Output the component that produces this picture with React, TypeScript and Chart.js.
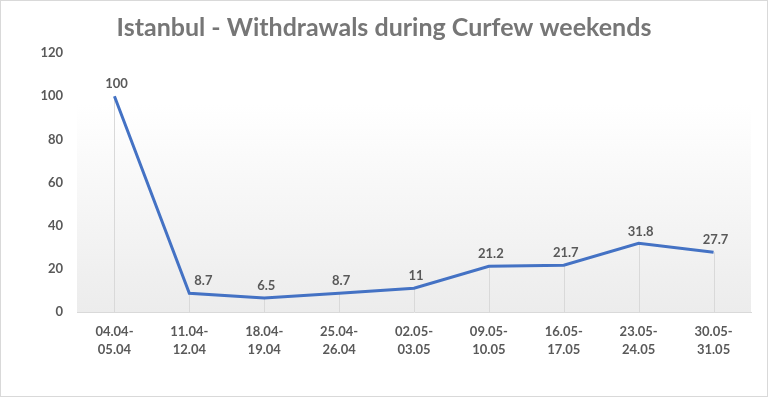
import React, { useEffect, useRef } from "react";
import { Chart, registerables } from "chart.js";

Chart.register(...registerables);

const categories: string[][] = [
  ["04.04-", "05.04"],
  ["11.04-", "12.04"],
  ["18.04-", "19.04"],
  ["25.04-", "26.04"],
  ["02.05-", "03.05"],
  ["09.05-", "10.05"],
  ["16.05-", "17.05"],
  ["23.05-", "24.05"],
  ["30.05-", "31.05"],
];
const withdrawals: number[] = [100, 8.7, 6.5, 8.7, 11, 21.2, 21.7, 31.8, 27.7];
const yMin = 0;
const yMax = 120;
const yStep = 20;
const titleText = "Istanbul - Withdrawals during Curfew weekends";

const FONT = "Lato, 'Open Sans', sans-serif";
const LABEL_COLOR = "#595959";

const bgPlugin = {
  id: "plotBg",
  beforeDraw(chart: any) {
    const { ctx, chartArea } = chart;
    if (!chartArea) return;
    const g = ctx.createLinearGradient(0, chartArea.top, 0, chartArea.bottom);
    g.addColorStop(0, "#ffffff");
    g.addColorStop(0.2, "#ffffff");
    g.addColorStop(1, "#ececec");
    ctx.save();
    ctx.fillStyle = g;
    ctx.fillRect(chartArea.left, chartArea.top, chartArea.right - chartArea.left, chartArea.bottom - chartArea.top);
    ctx.restore();
  },
  beforeDatasetsDraw(chart: any) {
    const { ctx } = chart;
    const meta = chart.getDatasetMeta(0);
    const yScale = chart.scales.y;
    const base = yScale.getPixelForValue(0);
    ctx.save();
    ctx.strokeStyle = "#d9d9d9";
    ctx.lineWidth = 1;
    meta.data.forEach((pt: any) => {
      const x = Math.round(pt.x) + 0.5;
      ctx.beginPath();
      ctx.moveTo(x, pt.y);
      ctx.lineTo(x, base);
      ctx.stroke();
    });
    ctx.restore();
  },
  afterDatasetsDraw(chart: any) {
    const { ctx } = chart;
    const meta = chart.getDatasetMeta(0);
    const data = chart.data.datasets[0].data as number[];
    ctx.save();
    ctx.font = `bold 13px ${FONT}`;
    ctx.fillStyle = LABEL_COLOR;
    ctx.textAlign = "center";
    ctx.textBaseline = "middle";
    meta.data.forEach((pt: any, i: number) => {
      let dx = 2;
      if (i > 0) {
        const prev = meta.data[i - 1];
        const slope = (pt.y - prev.y) / (pt.x - prev.x);
        if (slope > 1) dx = 14;
      }
      ctx.fillText(String(data[i]), pt.x + dx, pt.y - 12);
    });
    ctx.restore();
  },
};

export default function App() {
  const ref = useRef<HTMLCanvasElement | null>(null);

  useEffect(() => {
    document.body.style.margin = "0";
    if (!ref.current) return;
    const chart = new Chart(ref.current, {
      type: "line",
      data: {
        labels: categories,
        datasets: [
          {
            data: withdrawals,
            borderColor: "#4472C4",
            borderWidth: 3,
            pointRadius: 0,
            tension: 0,
            fill: false,
          },
        ],
      },
      options: {
        animation: false,
        responsive: false,
        maintainAspectRatio: false,
        layout: { padding: { left: 16, right: 16, top: 0, bottom: 0 } },
        plugins: {
          legend: { display: false },
          tooltip: { enabled: false },
          title: {
            display: true,
            text: titleText,
            color: "#767676",
            font: { family: FONT, size: 25, weight: "bold", lineHeight: 1.2 },
            padding: { top: 12, bottom: 10 },
          },
        },
        scales: {
          x: {
            offset: true,
            grid: { display: false, drawTicks: false },
            border: { display: true, color: "#d9d9d9", width: 1 },
            ticks: {
              color: LABEL_COLOR,
              font: { family: FONT, size: 13, weight: "bold", lineHeight: 1.45 },
              padding: 10,
              maxRotation: 0,
              autoSkip: false,
            },
            afterFit(scale: any) {
              scale.height = 84;
            },
          },
          y: {
            min: yMin,
            max: yMax,
            grid: { display: false, drawTicks: false },
            border: { display: false },
            ticks: {
              stepSize: yStep,
              color: LABEL_COLOR,
              font: { family: FONT, size: 13, weight: "bold" },
              padding: 14,
            },
            afterFit(scale: any) {
              scale.width = 60;
            },
          },
        },
      },
      plugins: [bgPlugin],
    });
    return () => chart.destroy();
  }, []);

  return (
    <div
      style={{
        width: 768,
        height: 397,
        boxSizing: "border-box",
        border: "1px solid #d9d9d9",
        background: "#ffffff",
      }}
    >
      <canvas ref={ref} width={766} height={395} style={{ display: "block" }} />
    </div>
  );
}
